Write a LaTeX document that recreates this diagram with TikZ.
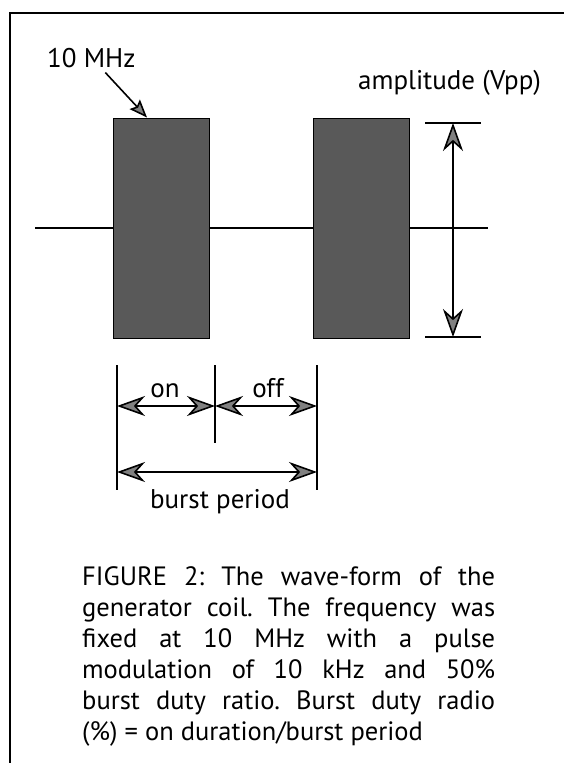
\documentclass[tikz,border=0pt]{standalone}
\usepackage{fontspec}
\setmainfont{PT Sans}
\usepackage{tikz}
\usetikzlibrary{arrows.meta,positioning,calc}

\begin{document}
\frenchspacing
\begin{tikzpicture}[x=1pt,y=-1pt,>={Stealth[length=28pt,width=20pt,inset=9pt,fill=black!50]},node distance=103pt]
	\tikzstyle{pulse}=[draw,line width=1pt,fill=black!65,minimum width=96pt,minimum height=220pt,inner sep=0pt]
	\tikzstyle{lbl}=[inner sep=0pt,font=\fontsize{27}{30}\selectfont]
	\tikzstyle{dim}=[<->,line width=1.6pt]
	\useasboundingbox (0,0) rectangle (564,763);
	% frame
	\draw[line width=1.5pt] (564,13) -- (10,13) -- (10,763);
	% pulses on the line
	\node[pulse] (p1) at (161,228) {};
	\node[pulse,right=of p1] (p2) {};
	\coordinate (l0) at (35,228);
	\coordinate (r0) at (488,228);
	\draw[line width=1.2pt] (l0) -- (p1.west) (p1.east) -- (p2.west) (p2.east) -- (r0);
	% 10 MHz
	\node[lbl,anchor=base west] (mhz) at (47,67) {10 MHz};
	\draw[line width=1.6pt,->,>={Stealth[length=18pt,width=14pt,inset=3pt,fill=black!50]}] ([xshift=14pt,yshift=-5pt]mhz.south) -- ([xshift=-14pt]p1.north);
	% amplitude
	\node[lbl,anchor=base west] (amp) at (358,89) {amplitude (Vpp)};
	\coordinate (t0) at (453,123);
	\coordinate (b0) at (453,337);
	\draw[line width=1.4pt] ([xshift=-28pt]t0) -- ([xshift=28pt]t0);
	\draw[line width=1.4pt] ([xshift=-28pt]b0) -- ([xshift=28pt]b0);
	\draw[dim] (t0) -- (b0);
	% on / off / burst period
	\coordinate (k1) at (117,365);
	\coordinate (k2) at (215,365);
	\coordinate (k3) at (317,365);
	\draw[line width=1.6pt] (k1) -- ++(0,125);
	\draw[line width=1.6pt] (k2) -- ++(0,78);
	\draw[line width=1.6pt] (k3) -- ++(0,125);
	\draw[dim] ($(k1)+(0,41)$) -- ($(k2)+(0,41)$);
	\draw[dim] ($(k2)+(0,41)$) -- ($(k3)+(0,41)$);
	\draw[dim] ($(k1)+(0,107)$) -- ($(k3)+(0,107)$);
	\node[lbl,anchor=base] (on) at (165,397) {on};
	\node[lbl,anchor=base] (off) at (268,397) {off};
	\node[lbl,anchor=base] (bp) at (220,508) {burst period};
	% caption
	\node[anchor=north west,inner sep=0pt,align=left,font=\fontsize{26.5}{31}\selectfont] (cap) at (82,566) {%
		\makebox[413pt][s]{FIGURE 2: The wave-form of the}\\
		\makebox[413pt][s]{generator coil. The frequency was}\\
		\makebox[413pt][s]{fixed at 10 MHz with a pulse}\\
		\makebox[413pt][s]{modulation of 10 kHz and 50\%}\\
		\makebox[413pt][s]{burst duty ratio. Burst duty radio}\\
		(\%) = on duration/burst period};
\end{tikzpicture}
\end{document}
